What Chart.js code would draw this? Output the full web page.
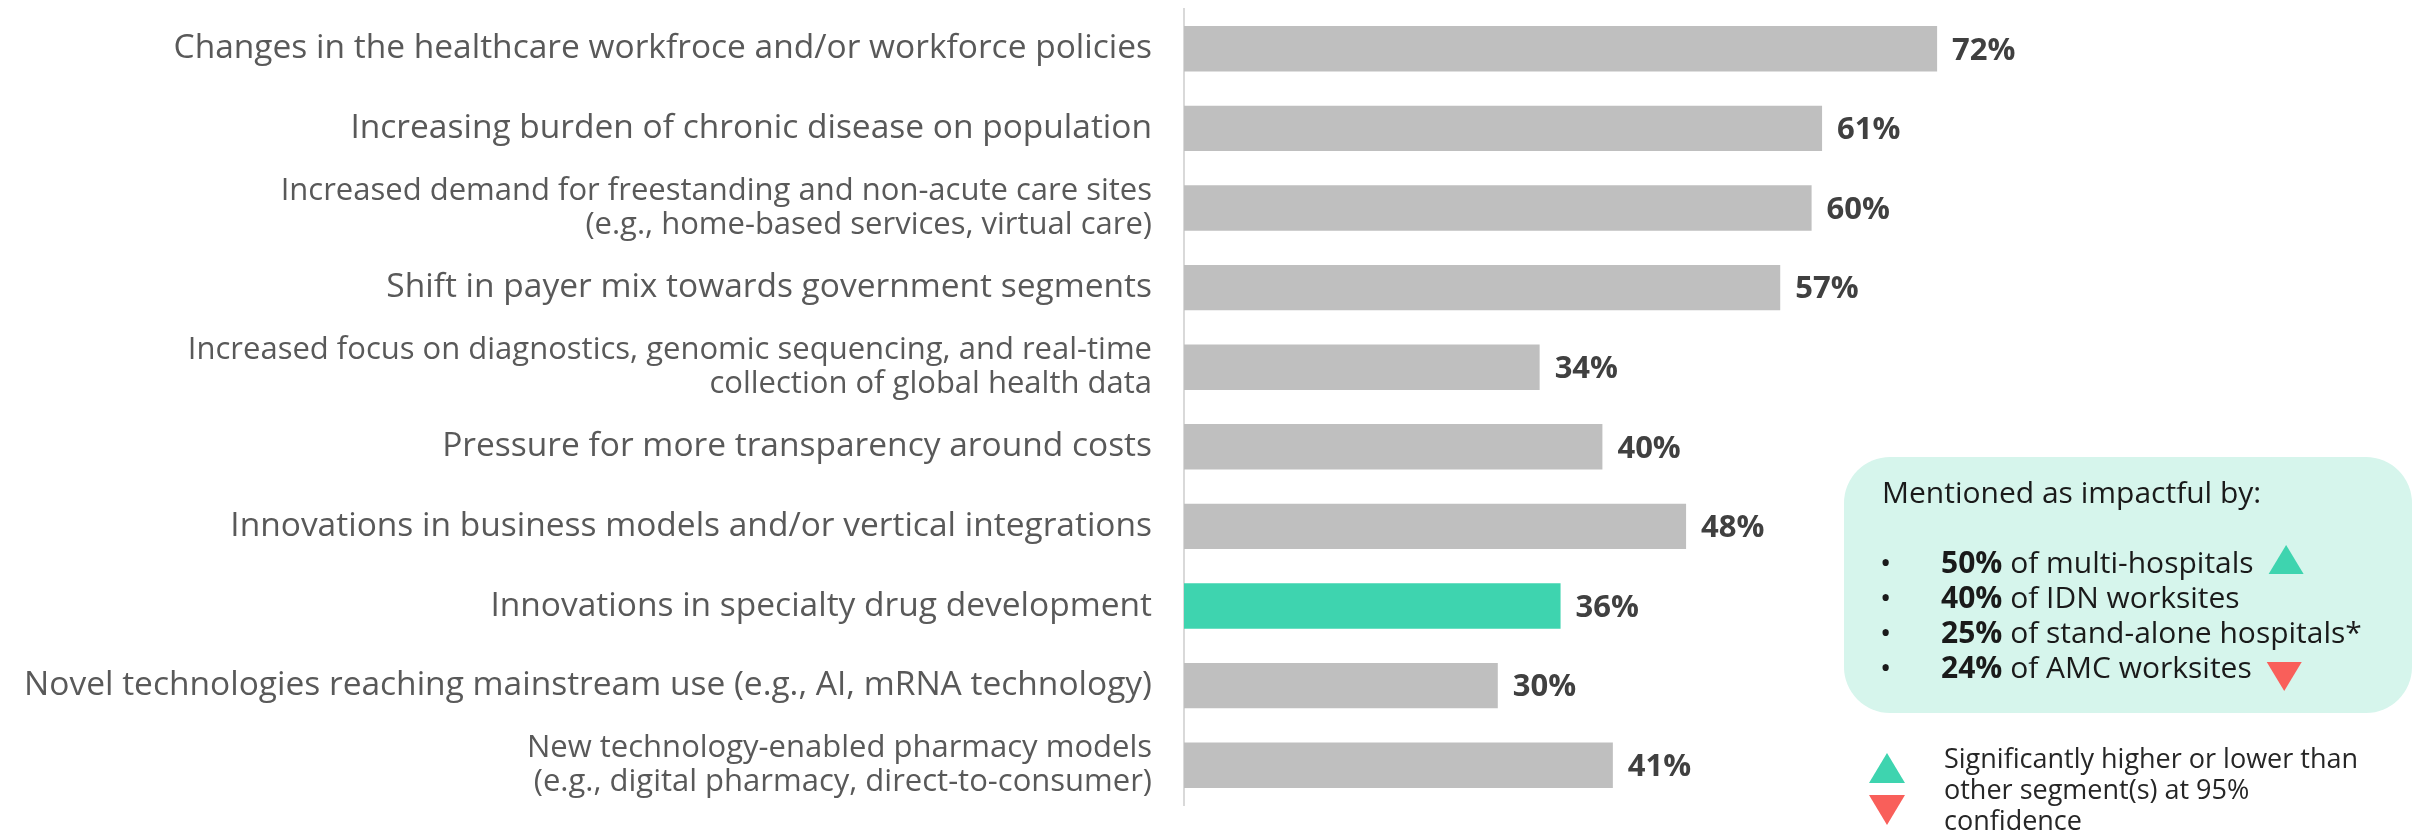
<!DOCTYPE html>
<html>
<head>
<meta charset="utf-8">
<script src="https://cdn.jsdelivr.net/npm/chart.js@4.4.1/dist/chart.umd.min.js"></script>
<style>
  html, body { margin: 0; padding: 0; background: #fff; }
  #wrap { position: relative; width: 2431px; height: 833px; }
</style>
</head>
<body>
<div id="wrap"><canvas id="impactChart"></canvas></div>
<script>
// trends and the share of respondents naming each as impactful
const categories = [
    'Changes in the healthcare workfroce and/or workforce policies',
    'Increasing burden of chronic disease on population',
    ['Increased demand for freestanding and non-acute care sites', '(e.g., home-based services, virtual care)'],
    'Shift in payer mix towards government segments',
    ['Increased focus on diagnostics, genomic sequencing, and real-time', 'collection of global health data'],
    'Pressure for more transparency around costs',
    'Innovations in business models and/or vertical integrations',
    'Innovations in specialty drug development',
    'Novel technologies reaching mainstream use (e.g., AI, mRNA technology)',
    ['New technology-enabled pharmacy models', '(e.g., digital pharmacy, direct-to-consumer)']
];
const impactValues = [72, 61, 60, 57, 34, 40, 48, 36, 30, 41];
const highlightIndex = 7;

// breakdown for the highlighted trend
const segmentShares = [50, 40, 25, 24];
const segmentNames = ['of multi-hospitals', 'of IDN worksites', 'of stand-alone hospitals*', 'of AMC worksites'];
const segmentFlags = ['up', '', '', 'down'];
const calloutTitle = 'Mentioned as impactful by:';
const legendLines = ['Significantly higher or lower than', 'other segment(s) at 95%', 'confidence'];

const GREY = '#bfbfbf';
const TEAL = '#3ed4af';
const RED = '#f95f5a';
const FONT = '"Open Sans", "Noto Sans", sans-serif';

function triangle(ctx, x, y, w, h, up, color) {
    ctx.beginPath();
    if (up) {
        ctx.moveTo(x, y + h);
        ctx.lineTo(x + w / 2, y);
        ctx.lineTo(x + w, y + h);
    } else {
        ctx.moveTo(x, y);
        ctx.lineTo(x + w, y);
        ctx.lineTo(x + w / 2, y + h);
    }
    ctx.closePath();
    ctx.fillStyle = color;
    ctx.fill();
}

// percentage at the end of every bar
const valueLabels = {
    id: 'valueLabels',
    afterDatasetsDraw(chart) {
        const ctx = chart.ctx;
        const meta = chart.getDatasetMeta(0);
        ctx.save();
        ctx.font = 'bold 31px ' + FONT;
        ctx.fillStyle = '#404040';
        ctx.textAlign = 'left';
        ctx.textBaseline = 'middle';
        meta.data.forEach((bar, i) => {
            ctx.fillText(impactValues[i] + '%', bar.x + 15, bar.y + 2);
        });
        ctx.restore();
    }
};

// mint callout box and the significance key
const callout = {
    id: 'callout',
    afterDraw(chart) {
        const ctx = chart.ctx;
        ctx.save();
        ctx.fillStyle = '#d6f5ec';
        ctx.beginPath();
        ctx.roundRect(1844, 457, 568, 256, 46);
        ctx.fill();

        ctx.textAlign = 'left';
        ctx.textBaseline = 'alphabetic';
        ctx.fillStyle = '#1a1a1a';
        ctx.font = '30px ' + FONT;
        ctx.fillText(calloutTitle, 1882, 503);

        segmentShares.forEach((v, i) => {
            const base = 573 + i * 35;
            ctx.fillStyle = '#1a1a1a';
            ctx.font = '30px ' + FONT;
            ctx.fillText('\u2022', 1880, base);
            ctx.font = 'bold 30px ' + FONT;
            const pct = v + '%';
            ctx.fillText(pct, 1941, base);
            let x = 1941 + ctx.measureText(pct).width;
            ctx.font = '30px ' + FONT;
            const rest = ' ' + segmentNames[i];
            ctx.fillText(rest, x, base);
            x += ctx.measureText(rest).width + 15;
            if (segmentFlags[i] === 'up') triangle(ctx, x, base - 28, 35, 29, true, TEAL);
            if (segmentFlags[i] === 'down') triangle(ctx, x, base - 16, 35, 29, false, RED);
        });

        triangle(ctx, 1869, 753, 36, 30, true, TEAL);
        triangle(ctx, 1869, 795, 36, 30, false, RED);
        ctx.font = '27px ' + FONT;
        ctx.fillStyle = '#262626';
        legendLines.forEach((line, i) => {
            ctx.fillText(line, 1944, 768 + i * 31);
        });
        ctx.restore();
    }
};

new Chart(document.getElementById('impactChart'), {
    type: 'bar',
    data: {
        labels: categories,
        datasets: [{
            data: impactValues,
            backgroundColor: impactValues.map((v, i) => i === highlightIndex ? TEAL : GREY),
            borderWidth: 0,
            barPercentage: 0.57,
            categoryPercentage: 1
        }]
    },
    options: {
        indexAxis: 'y',
        responsive: true,
        maintainAspectRatio: false,
        animation: false,
        layout: { padding: { top: 9, bottom: 28, left: 0, right: 201 } },
        plugins: {
            legend: { display: false },
            tooltip: { enabled: false }
        },
        scales: {
            x: { display: false, min: 0, max: 100 },
            y: {
                afterFit(scale) {
                    scale.width = 1184;
                    // labels sit inside their bands, no extra room above/below
                    scale.paddingTop = 0;
                    scale.paddingBottom = 0;
                },
                grid: { display: false, drawTicks: false },
                border: { display: true, color: '#d9d9d9', width: 2 },
                ticks: {
                    padding: 32,
                    color: '#595959',
                    font(c) {
                        const multi = Array.isArray(categories[c.index]);
                        return { family: FONT, size: multi ? 31 : 33.5, lineHeight: multi ? 1.1 : 1.2 };
                    }
                }
            }
        }
    },
    plugins: [valueLabels, callout]
});
</script>
</body>
</html>
